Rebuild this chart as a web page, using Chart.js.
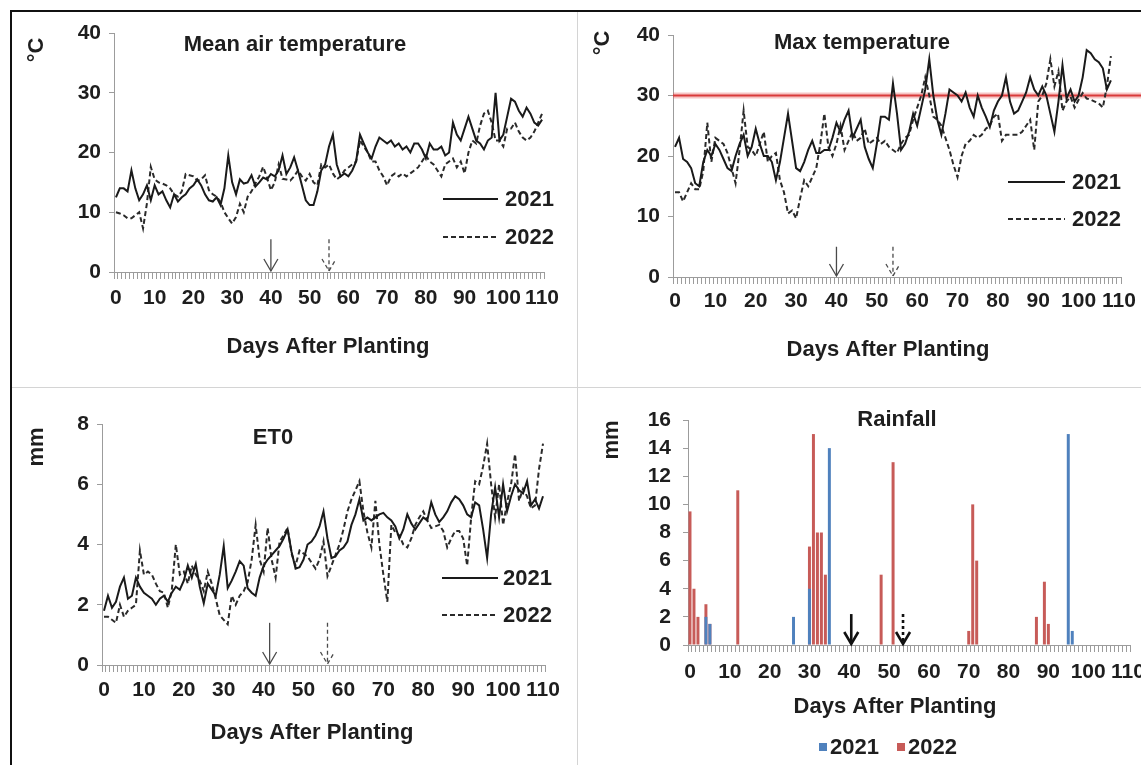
<!DOCTYPE html>
<html>
<head>
<meta charset="utf-8">
<script src="https://cdn.jsdelivr.net/npm/chart.js@4.4.1/dist/chart.umd.min.js"></script>
<style>
  html, body { margin: 0; padding: 0; background: #fff; }
  body { width: 1141px; height: 765px; position: relative; overflow: hidden; }
  .frame { position: absolute; left: 10px; top: 10px; width: 1200px; height: 800px;
           border-top: 2px solid #111; border-left: 2px solid #111; }
  canvas { position: absolute; }
  #meanChart { left: 12px; top: 12px; }
  #maxChart { left: 578px; top: 12px; }
  #etChart { left: 12px; top: 388px; }
  #rainChart { left: 578px; top: 388px; }
  .sep-v { position: absolute; left: 577px; top: 12px; width: 1px; height: 760px; background: #d4d4d4; }
  .sep-h { position: absolute; left: 12px; top: 387px; width: 1130px; height: 1px; background: #d4d4d4; }
</style>
</head>
<body>
<div class="frame"></div>
<canvas id="meanChart" width="565" height="375"></canvas>
<canvas id="maxChart" width="563" height="375"></canvas>
<canvas id="etChart" width="565" height="377"></canvas>
<canvas id="rainChart" width="563" height="377"></canvas>
<div class="sep-v"></div>
<div class="sep-h"></div>
<script>
// days after planting 0..110
const days = Array.from({ length: 111 }, (_, i) => String(i));

// Mean air temperature (°C)
const mean2021 = [
    12.5, 14, 14, 13.5, 17, 14, 12, 13, 14.5, 12,
    14.5, 13, 13.5, 12, 10.8, 13, 11.8, 12.5, 13, 14,
    14.5, 15.5, 14.5, 13, 12, 11.8, 12.5, 11.2, 14, 19.5,
    15, 13, 15.5, 14.8, 15, 16.2, 14.3, 15, 15.8, 15.5,
    16.4, 16, 17, 19.5, 16.4, 17.5, 19.2, 17, 14.5, 12,
    11.2, 11.2, 13.5, 17, 18, 21, 23, 18, 16, 16.5,
    16, 17, 18.5, 23, 21.5, 20, 19, 21, 22.5, 22,
    21.5, 22, 21, 21.5, 20.5, 21, 20, 21.5, 21.5, 20.5,
    19, 21.5, 20.5, 20.5, 21, 19.5, 20, 25, 23, 22,
    24, 26, 24, 22, 21.5, 20.5, 22, 22.5, 30, 22,
    23, 26, 29, 28.5, 27, 26, 27.5, 26.5, 25, 24.5, 25.5
];
const mean2022 = [
    10, 9.8, 9.5, 9, 9, 9.5, 10, 7.3, 11.5, 17.6,
    15.5, 15, 14.8, 14.5, 14, 13, 12.6, 13.5, 16.4, 16.2,
    16, 15.3, 15.5, 16.2, 13.7, 13, 12.6, 11.7, 10, 9,
    8.1, 9.2, 11.4, 10, 12.6, 13.5, 14.8, 16, 17.6, 15.8,
    13.7, 15, 18, 15.6, 15.5, 15.3, 16, 17, 16, 15.3,
    16.4, 15, 14.5, 18, 17.5, 18, 16.5, 15.5, 16, 17,
    17.5, 18, 18.5, 22, 21, 20, 18.5, 18.5, 17, 16,
    14.5, 16, 16.5, 16, 16.5, 16, 16.5, 17, 17.5, 18.5,
    19.5, 18.5, 18, 17, 16, 18, 18.5, 19, 17.5, 18.5,
    16.5, 20, 22, 21.5, 24.5, 26.5, 27, 25, 22, 22,
    21, 24, 24, 25, 23.5, 22.5, 22, 22.5, 23.5, 25, 26.5
];

// Max temperature (°C)
const max2021 = [
    21.5, 23, 19.5, 19, 18, 15.5, 15, 19, 21, 20,
    22, 21, 19.5, 18, 17.5, 20, 22, 23.5, 20, 21.5,
    24.5, 22, 20, 20, 19, 16, 19, 23, 27, 22.5,
    18, 17.5, 19, 21, 22.5, 20.5, 20.5, 21, 21, 23,
    25.5, 24, 26, 27.5, 23, 24.5, 26, 21.5, 19.5, 18,
    22, 26.5, 26.5, 26, 32, 27, 21, 22, 24, 27,
    25, 28, 31, 36, 30, 26, 23.5, 27, 31, 30.5,
    30, 29, 30.5, 28, 26.5, 30, 28, 26.5, 24.8, 27.5,
    29, 30, 33, 29, 27, 27.5, 29, 30.5, 33, 31,
    30, 31.5, 30, 27, 24, 29, 35, 29.5, 31, 29,
    30, 33, 37.5, 37, 36, 35.5, 34.5, 31, 32.5, null
];
const max2022 = [
    14, 14, 12.5, 14, 15.5, 14.5, 14.5, 17.5, 25.5, 19,
    23, 22.5, 22, 20.5, 18, 15.5, 21, 27.5, 21.5, 21,
    20, 22, 24, 19, 20, 20.5, 16, 14, 10.5, 11,
    9.7, 13, 16, 15, 16.5, 18, 22, 27, 21.5, 20,
    22, 25, 21, 22.5, 24, 22.5, 23, 24.5, 22, 22.5,
    23, 22, 22.5, 21.5, 21, 20.5, 22, 23, 23.5, 26,
    28, 30, 33, 30, 26.5, 26, 25, 23, 21, 18.5,
    16.5, 20, 22, 22.5, 23.5, 23, 23.5, 24.5, 25, 26.5,
    27, 22.5, 23.5, 23.5, 23.5, 23.5, 24, 25, 26, 21,
    29, 30, 32, 36, 31.5, 34, 27.5, 29, 29.8, 28,
    29.3, 30.4, 29.5, 29.3, 29, 28.7, 28, 31.5, 36.5, null
];
const maxThreshold = 30;

// Reference evapotranspiration ET0 (mm)
const et2021 = [
    1.8, 2.3, 1.9, 2.1, 2.6, 2.9, 2.2, 2.3, 2.9, 2.6,
    2.4, 2.3, 2.2, 2.0, 2.2, 2.3, 2.1, 2.4, 2.6, 2.5,
    2.8, 3.3, 2.9, 3.35, 2.6, 2.05, 2.7, 2.5, 2.3, 3.0,
    3.95, 2.55, 2.8, 3.1, 3.45, 3.3, 2.55, 2.4, 2.3, 2.9,
    3.3, 3.5, 3.65, 3.8, 3.95, 4.2, 4.5, 3.75, 3.2, 3.25,
    3.5, 4.0, 4.1, 4.3, 4.6, 5.1, 4.2, 3.55, 3.6, 3.8,
    3.9, 4.1, 4.65, 5.0, 5.5, 4.8, 4.9, 4.8, 4.9, 5.0,
    5.05, 4.9, 4.8, 4.6, 4.2, 4.5, 5.0, 4.7, 4.5, 4.7,
    4.9, 4.8, 5.4, 5.0, 4.75, 4.9, 5.1, 5.4, 5.6, 5.5,
    5.3, 5.0, 4.9, 5.4, 5.3, 4.5, 3.55, 5.0, 5.9, 4.9,
    6.0, 5.1, 5.6, 6.0, 5.8, 5.7, 6.1, 5.3, 5.5, 5.2, 5.6
];
const et2022 = [
    1.6, 1.6, 1.5, 1.4, 2.0, 1.6, 1.8, 1.9, 2.0, 3.8,
    3.0, 3.1, 3.0, 2.7, 2.45, 2.4, 1.9, 2.5, 4.0, 3.0,
    3.1, 2.7, 3.3, 3.0, 2.8, 2.45, 3.1, 2.7, 2.2, 1.65,
    1.5, 1.35, 2.3, 2.0, 2.3, 2.45, 2.75, 3.5, 4.65, 3.5,
    3.1, 4.55, 3.5, 2.9, 4.1, 4.3, 4.55, 3.7, 3.3, 3.8,
    3.7, 3.6, 3.4, 3.2, 3.5, 4.1, 2.95, 3.3, 3.65, 4.0,
    4.5, 5.1, 5.5, 5.8, 6.1, 5.1, 4.4, 3.9, 5.45, 4.0,
    3.0, 2.1, 4.65, 4.4, 4.3, 4.0, 3.9, 4.2, 4.65, 4.9,
    5.1, 4.8, 4.55, 4.6, 4.65, 4.45, 3.9, 4.2, 4.45, 4.45,
    4.2, 3.3, 4.9, 6.1, 6.0, 6.6, 7.35, 6.0, 4.9, 6.0,
    4.65, 5.4, 6.0, 7.0, 5.45, 5.85, 5.6, 5.2, 5.3, 6.5, 7.35
];

// Rainfall (mm): rainy days and amounts
const rainDays2021 = [4, 5, 26, 30, 35, 95, 96];
const rainMm2021 = [2, 1.5, 2, 4, 14, 15, 1];
const rainDays2022 = [0, 1, 2, 4, 5, 12, 30, 31, 32, 33, 34, 48, 51, 70, 71, 72, 87, 89, 90];
const rainMm2022 = [9.5, 4, 2, 2.9, 1.5, 11, 7, 15, 8, 8, 5, 5, 13, 1, 10, 6, 2, 4.5, 1.5];

// arrows marking key days (solid = 2021, dashed = 2022)
const meanArrows = [{ day: 40, top: 5.5, dashed: false }, { day: 55, top: 5.5, dashed: true }];
const maxArrows = [{ day: 40, top: 5, dashed: false }, { day: 54, top: 5, dashed: true }];
const etArrows = [{ day: 41.5, top: 1.4, dashed: false }, { day: 56, top: 1.4, dashed: true }];
const rainArrows = [{ day: 40.5, top: 2.2, dashed: false }, { day: 53.5, top: 2.2, dashed: true }];

const FONT = '"Liberation Sans", Arial, sans-serif';
const INK = '#1e1e1e';
const AXIS = '#9c9c9c';

function dense(daysList, amounts) {
    const out = days.map(() => 0);
    daysList.forEach((d, i) => { out[d] = amounts[i]; });
    return out;
}

// draws titles, legend, arrows and threshold line
const decor = {
    id: 'decor',
    beforeDatasetsDraw(chart, args, o) {
        if (o.threshold == null) return;
        const ctx = chart.ctx;
        const y = chart.scales.y.getPixelForValue(o.threshold);
        ctx.save();
        ctx.strokeStyle = 'rgba(230, 90, 90, 0.35)';
        ctx.lineWidth = 6;
        ctx.beginPath(); ctx.moveTo(chart.chartArea.left, y); ctx.lineTo(chart.width, y); ctx.stroke();
        ctx.strokeStyle = '#d93a3a';
        ctx.lineWidth = 2;
        ctx.beginPath(); ctx.moveTo(chart.chartArea.left, y); ctx.lineTo(chart.width, y); ctx.stroke();
        ctx.restore();
    },
    afterDraw(chart, args, o) {
        const ctx = chart.ctx;
        const xs = chart.scales.x, ys = chart.scales.y;
        ctx.save();
        ctx.fillStyle = INK;
        ctx.textAlign = 'center';
        ctx.textBaseline = 'middle';
        ctx.font = `bold 22px ${FONT}`;
        ctx.fillText(o.title.text, o.title.x, o.title.y);
        ctx.fillText('Days After Planting', o.xTitle.x, o.xTitle.y);
        ctx.save();
        ctx.translate(o.yTitle.x, o.yTitle.y);
        ctx.rotate(-Math.PI / 2);
        ctx.fillText(o.yTitle.text, 0, 0);
        ctx.restore();

        // arrows
        const base = ys.getPixelForValue(0);
        o.arrows.forEach(a => {
            const x = xs.getPixelForValue(a.day);
            const top = ys.getPixelForValue(a.top);
            ctx.strokeStyle = o.arrowColor;
            ctx.lineWidth = o.arrowWidth;
            ctx.setLineDash(a.dashed ? o.arrowDash : []);
            ctx.beginPath(); ctx.moveTo(x, top); ctx.lineTo(x, base - 1); ctx.stroke();
            if (!o.solidHeads) ctx.setLineDash(a.dashed ? o.arrowDash : []);
            else ctx.setLineDash([]);
            ctx.beginPath();
            ctx.moveTo(x - 7, base - 13); ctx.lineTo(x, base - 1); ctx.lineTo(x + 7, base - 13);
            ctx.stroke();
        });
        ctx.setLineDash([]);

        // legend
        const lg = o.legend;
        ctx.textAlign = 'left';
        ctx.font = `bold 22px ${FONT}`;
        chart.data.datasets.forEach((ds, i) => {
            if (lg.type === 'line') {
                const y = lg.y[i];
                ctx.strokeStyle = ds.borderColor;
                ctx.lineWidth = 2;
                ctx.setLineDash(ds.borderDash || []);
                ctx.beginPath(); ctx.moveTo(lg.x1, y); ctx.lineTo(lg.x2, y); ctx.stroke();
                ctx.setLineDash([]);
                ctx.fillStyle = INK;
                ctx.fillText(ds.label, lg.tx, y + 1);
            } else {
                const x = lg.x[i];
                ctx.fillStyle = ds.backgroundColor;
                ctx.fillRect(x, lg.y - 4, 8, 8);
                ctx.fillStyle = INK;
                ctx.fillText(ds.label, x + 11, lg.y + 1);
            }
        });
        ctx.restore();
    }
};

function fixedArea(box, w) {
    return {
        padding: { left: 0, top: box.top, right: w - box.right, bottom: 0 },
        fitX: s => { s.height = s.chart.height - box.bottom; s.paddingLeft = 0; s.paddingRight = 0; },
        fitY: s => { s.width = box.left; s.paddingTop = 0; s.paddingBottom = 0; }
    };
}

function xScale(area, pad) {
    return {
        type: 'category',
        offset: true,
        afterFit: area.fitX,
        border: { color: AXIS, width: 1 },
        grid: { offset: true, drawOnChartArea: false, tickLength: 7, color: AXIS, lineWidth: 1 },
        ticks: {
            autoSkip: false, maxRotation: 0, minRotation: 0, padding: pad, color: INK,
            font: { family: FONT, size: 21, weight: 'bold' },
            callback(v, i) { return i % 10 === 0 ? this.getLabelForValue(v) : ''; }
        }
    };
}

function yScale(area, max, step, pad) {
    return {
        min: 0, max: max,
        afterFit: area.fitY,
        border: { color: AXIS, width: 1 },
        grid: { drawOnChartArea: false, tickLength: 5, color: AXIS },
        ticks: { stepSize: step, autoSkip: false, padding: pad, color: INK, font: { family: FONT, size: 21, weight: 'bold' } }
    };
}

function lineChart(id, s2021, s2022, box, yMax, yStep, xPad, decorOpts) {
    const canvas = document.getElementById(id);
    const area = fixedArea(box, canvas.width);
    return new Chart(canvas.getContext('2d'), {
        type: 'line',
        data: {
            labels: days,
            datasets: [
                { label: '2021', data: s2021, borderColor: '#1a1a1a', borderWidth: 2, pointRadius: 0, tension: 0 },
                { label: '2022', data: s2022, borderColor: '#2a2a2a', borderWidth: 2, borderDash: [5, 3], pointRadius: 0, tension: 0 }
            ]
        },
        options: {
            responsive: false, animation: false, events: [],
            layout: { padding: area.padding },
            plugins: { legend: { display: false }, tooltip: { enabled: false }, decor: decorOpts },
            scales: { x: xScale(area, xPad), y: yScale(area, yMax, yStep, 8) }
        },
        plugins: [decor]
    });
}

const thinArrows = { arrowColor: '#4a4a4a', arrowWidth: 1.3, arrowDash: [4, 3], solidHeads: false };

lineChart('meanChart', mean2021, mean2022, { left: 102, top: 21, right: 532, bottom: 260 }, 40, 10, 7, {
    ...thinArrows,
    title: { text: 'Mean air temperature', x: 283, y: 33 },
    xTitle: { x: 316, y: 335 },
    yTitle: { text: '°C', x: 25, y: 38 },
    legend: { type: 'line', x1: 431, x2: 486, tx: 493, y: [187, 225] },
    arrows: meanArrows
});

lineChart('maxChart', max2021, max2022, { left: 95, top: 23, right: 543, bottom: 265 }, 40, 10, 5, {
    ...thinArrows,
    title: { text: 'Max temperature', x: 284, y: 31 },
    xTitle: { x: 310, y: 338 },
    yTitle: { text: '°C', x: 25, y: 31 },
    legend: { type: 'line', x1: 430, x2: 487, tx: 494, y: [170, 207] },
    arrows: maxArrows,
    threshold: maxThreshold
});

lineChart('etChart', et2021, et2022, { left: 90, top: 36, right: 533, bottom: 277 }, 8, 2, 6, {
    ...thinArrows,
    title: { text: 'ET0', x: 261, y: 50 },
    xTitle: { x: 300, y: 345 },
    yTitle: { text: 'mm', x: 25, y: 59 },
    legend: { type: 'line', x1: 430, x2: 486, tx: 491, y: [190, 227] },
    arrows: etArrows
});

// Rainfall bars
(function () {
    const canvas = document.getElementById('rainChart');
    const box = { left: 110, top: 32, right: 552, bottom: 257 };
    const area = fixedArea(box, canvas.width);
    new Chart(canvas.getContext('2d'), {
        type: 'bar',
        data: {
            labels: days,
            datasets: [
                { label: '2021', data: dense(rainDays2021, rainMm2021), backgroundColor: '#4f81bd', order: 0 },
                { label: '2022', data: dense(rainDays2022, rainMm2022), backgroundColor: '#c75b58', order: 1 }
            ]
        },
        options: {
            responsive: false, animation: false, events: [],
            layout: { padding: area.padding },
            datasets: { bar: { grouped: false, barPercentage: 0.75, categoryPercentage: 1 } },
            plugins: {
                legend: { display: false }, tooltip: { enabled: false },
                decor: {
                    arrowColor: '#111', arrowWidth: 2.6, arrowDash: [3, 3], solidHeads: true,
                    title: { text: 'Rainfall', x: 319, y: 32 },
                    xTitle: { x: 317, y: 319 },
                    yTitle: { text: 'mm', x: 34, y: 52 },
                    legend: { type: 'box', x: [241, 319], y: 359 },
                    arrows: rainArrows
                }
            },
            scales: { x: xScale(area, 8), y: yScale(area, 16, 2, 12) }
        },
        plugins: [decor]
    });
})();
</script>
</body>
</html>
